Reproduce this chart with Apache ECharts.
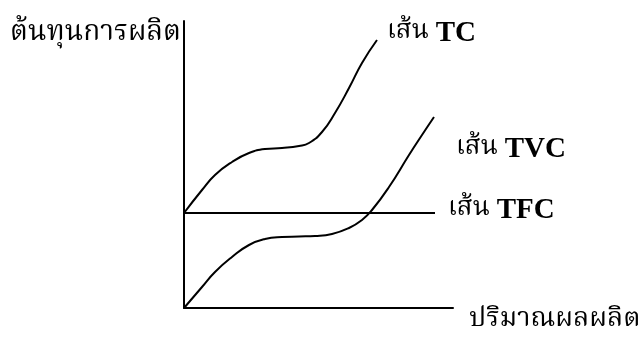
<!DOCTYPE html>
<html>
<head>
<meta charset="utf-8">
<script src="https://cdn.jsdelivr.net/npm/echarts@6/dist/echarts.min.js"></script>
<style>
  html, body { margin: 0; padding: 0; background: #fff; }
  #chart { width: 640px; height: 338px; }
</style>
</head>
<body>
<div id="chart"></div>
<script>
// quantity (x) and cost (y)
const tcX  = [0, 18, 31, 48, 65, 81, 98, 115, 125, 138, 151, 165, 178, 193];
const tcY  = [95, 118, 133, 146, 155, 159, 160, 162, 165, 176, 195, 220, 245, 268];
const tvcX = [0, 18, 31, 48, 65, 81, 98, 115, 131, 148, 165, 178, 188, 205, 225, 238, 250];
const tvcY = [0, 21, 36, 51, 63, 69, 71, 71.5, 72, 74, 80, 88, 98, 121, 153, 173, 191];
const tfcX = [0, 251];
const tfcY = [95, 95];

const thaiFont = "'Noto Serif Thai', 'Noto Sans Thai', 'Noto Sans', 'DejaVu Sans', sans-serif";

const pairs = (xs, ys) => xs.map((x, i) => [x, ys[i]]);

const labelRich = {
  th: { fontFamily: thaiFont, fontSize: 26, color: '#000' },
  en: { fontFamily: "'Liberation Serif', serif", fontSize: 29, fontWeight: 'bold', color: '#000' }
};

const lineSeries = (name, data, tag, offset) => ({
  name: name,
  type: 'line',
  data: data,
  smooth: 0.5,
  showSymbol: false,
  lineStyle: { color: '#000', width: 2 },
  endLabel: {
    show: true,
    formatter: '{th|เส้น }{en|' + tag + '}',
    rich: labelRich,
    offset: offset
  }
});

const myChart = echarts.init(document.getElementById('chart'));

const option = {
  animation: false,
  grid: { left: 184, top: 21, width: 269, height: 287, outerBoundsMode: 'none', containLabel: false },
  xAxis: {
    type: 'value', min: 0, max: 269,
    splitLine: { show: false }, axisTick: { show: false }, axisLabel: { show: false },
    axisLine: { lineStyle: { color: '#000', width: 2 } },
    name: 'ปริมาณผลผลิต',
    nameLocation: 'end',
    nameGap: 0,
    nameTextStyle: { fontFamily: thaiFont, fontSize: 27, color: '#000', align: 'left', verticalAlign: 'top', padding: [0, 0, 0, 16] }
  },
  yAxis: {
    type: 'value', min: 0, max: 287,
    splitLine: { show: false }, axisTick: { show: false }, axisLabel: { show: false },
    axisLine: { lineStyle: { color: '#000', width: 2 } },
    name: 'ต้นทุนการผลิต',
    nameLocation: 'end',
    nameGap: 0,
    nameTextStyle: { fontFamily: thaiFont, fontSize: 28, color: '#000', align: 'right', verticalAlign: 'top', padding: [0, 3, 0, 0] }
  },
  series: [
    lineSeries('TC', pairs(tcX, tcY), 'TC', [2, -6]),
    lineSeries('TVC', pairs(tvcX, tvcY), 'TVC', [14, 33]),
    lineSeries('TFC', pairs(tfcX, tfcY), 'TFC', [5, -2])
  ]
};

myChart.setOption(option);
</script>
</body>
</html>
